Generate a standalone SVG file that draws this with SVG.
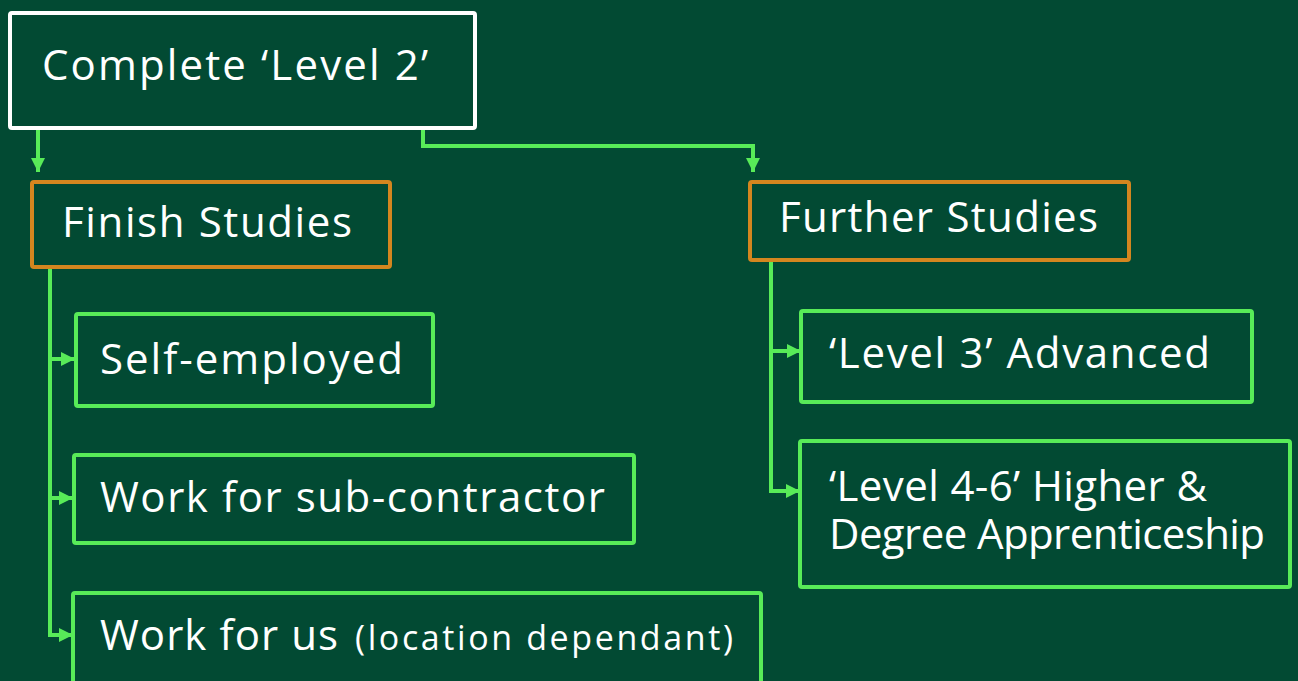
<svg xmlns="http://www.w3.org/2000/svg" width="1298" height="681" viewBox="0 0 1298 681">
<defs>
<style>
.bg{fill:#024A33}
.box{fill:#024A33;stroke-width:4}
.w{stroke:#FFFFFF}
.o{stroke:#D4861F}
.g{stroke:#58EB58}
.t{fill:#FFFFFF;font-family:"Open Sans","Liberation Sans",sans-serif;font-size:42px}
.s{font-size:34px}
.c{fill:none;stroke:#58EB58;stroke-width:4}
</style>
<marker id="ah" markerUnits="userSpaceOnUse" markerWidth="16" markerHeight="16" viewBox="0 0 16 16" refX="14" refY="8" orient="auto">
<path d="M0,1 L14,8 L0,15 Z" fill="#58EB58"/>
</marker>
</defs>
<rect class="bg" x="0" y="0" width="1298" height="681"/>
<g id="connectors">
<path class="c" d="M38,128 V172" marker-end="url(#ah)"/>
<path class="c" d="M423,128 V146 H753 V172" marker-end="url(#ah)"/>
<path class="c" d="M50,268 V635 H73" marker-end="url(#ah)"/>
<path class="c" d="M50,359 H75" marker-end="url(#ah)"/>
<path class="c" d="M50,498 H73" marker-end="url(#ah)"/>
<path class="c" d="M771,260 V491 H800" marker-end="url(#ah)"/>
<path class="c" d="M771,351 H801" marker-end="url(#ah)"/>
</g>
<g id="complete">
<rect class="box w" x="10" y="13" width="465" height="115" rx="2"/>
<text class="t" x="42" y="80" textLength="386" lengthAdjust="spacing">Complete ‘Level 2’</text>
</g>
<g id="finish">
<rect class="box o" x="32" y="182" width="358" height="85" rx="2"/>
<text class="t" x="62" y="237" textLength="290" lengthAdjust="spacing">Finish Studies</text>
</g>
<g id="further">
<rect class="box o" x="750" y="182" width="379" height="78" rx="2"/>
<text class="t" x="779" y="232" textLength="319" lengthAdjust="spacing">Further Studies</text>
</g>
<g id="self">
<rect class="box g" x="76" y="314" width="357" height="92" rx="2"/>
<text class="t" x="100" y="374" textLength="303" lengthAdjust="spacing">Self-employed</text>
</g>
<g id="sub">
<rect class="box g" x="74" y="455" width="560" height="88" rx="2"/>
<text class="t" x="100" y="512" textLength="505" lengthAdjust="spacing">Work for sub-contractor</text>
</g>
<g id="us">
<rect class="box g" x="73" y="593" width="688" height="110" rx="2"/>
<text class="t" y="650"><tspan x="100" textLength="238" lengthAdjust="spacing">Work for us</tspan> <tspan class="s" x="355" textLength="378" lengthAdjust="spacing">(location dependant)</tspan></text>
</g>
<g id="level3">
<rect class="box g" x="801" y="311" width="451" height="91" rx="2"/>
<text class="t" x="829" y="368" textLength="381" lengthAdjust="spacing">‘Level 3’ Advanced</text>
</g>
<g id="level46">
<rect class="box g" x="800" y="441" width="490" height="146" rx="2"/>
<text class="t" x="829" y="501" textLength="378" lengthAdjust="spacing">‘Level 4-6’ Higher &amp;</text>
<text class="t" x="829" y="549" textLength="436" lengthAdjust="spacing">Degree Apprenticeship</text>
</g>
</svg>
